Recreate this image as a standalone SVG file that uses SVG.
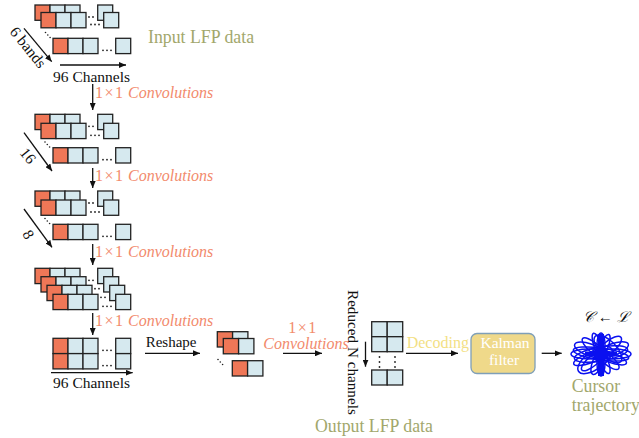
<svg xmlns="http://www.w3.org/2000/svg" xmlns:xlink="http://www.w3.org/1999/xlink" width="639" height="438" viewBox="0 0 639 438">
<style>
.r{fill:#ef7757;stroke:#222;stroke-width:1.3}
.b{fill:#d6e9ef;stroke:#222;stroke-width:1.3}
.d{fill:#222}
.ln{stroke:#111;stroke-width:1.3;fill:none}
.t{font-family:"Liberation Serif","Times New Roman",serif;fill:#111}
.ol{font-family:"Liberation Serif","Times New Roman",serif;fill:#a2a76c;font-size:17.8px}
.cv{font-family:"Liberation Serif","Times New Roman",serif;fill:#f28a6c;font-size:16px}
.it{font-style:italic}
.bl{fill:none;stroke:#0a10f0;stroke-width:1.5}
</style>
<defs>
<marker id="ah" markerUnits="userSpaceOnUse" markerWidth="7" markerHeight="6" refX="7" refY="3" orient="auto">
<path d="M0,0 L7,3 L0,6 z" fill="#111"/>
</marker>
<g id="row">
<rect class="r" x="0" y="0" width="15" height="15.3"/>
<rect class="b" x="15" y="0" width="15" height="15.3"/>
<rect class="b" x="30" y="0" width="15" height="15.3"/>
<circle class="d" cx="50" cy="12" r="0.9"/><circle class="d" cx="54" cy="12" r="0.9"/><circle class="d" cx="58" cy="12" r="0.9"/>
<rect class="b" x="62.7" y="0" width="15" height="15.3"/>
</g>
<g id="row2">
<rect class="r" x="0" y="0" width="15.3" height="15.3"/>
<rect class="b" x="15.3" y="0" width="15.3" height="15.3"/>
</g>
<g id="ddots">
<circle class="d" cx="0" cy="0" r="0.8"/><circle class="d" cx="2.3" cy="2.5" r="0.8"/><circle class="d" cx="4.6" cy="5" r="0.8"/>
</g>
</defs>

<g id="input-stack">
<use xlink:href="#row" x="35" y="5"/>
<use xlink:href="#row" x="41" y="12.5"/>
<use xlink:href="#ddots" x="45.5" y="32.5"/>
<use xlink:href="#row" x="53" y="38.3"/>
<text class="t" font-size="15.5" transform="translate(9,32) rotate(51)">6 bands</text>
<text class="t" font-size="15.5" x="53" y="82">96 Channels</text>
<text class="ol" x="148" y="43">Input LFP data</text>
</g>

<g id="stack-16">
<use xlink:href="#row" x="35" y="114.3"/>
<use xlink:href="#row" x="41" y="123.3"/>
<use xlink:href="#ddots" x="45" y="142"/>
<use xlink:href="#row" x="53" y="147.7"/>
<text class="t" font-size="15.5" transform="translate(19,153) rotate(51)">16</text>
</g>

<g id="stack-8">
<use xlink:href="#row" x="35" y="191"/>
<use xlink:href="#row" x="41" y="200"/>
<use xlink:href="#ddots" x="45" y="218.5"/>
<use xlink:href="#row" x="53" y="224.3"/>
<text class="t" font-size="15.5" text-anchor="middle" transform="translate(24,237) rotate(60)">8</text>
</g>

<g id="stack-4">
<use xlink:href="#row" x="35" y="268.3"/>
<use xlink:href="#row" x="41" y="276.7"/>
<use xlink:href="#row" x="47" y="285.3"/>
<use xlink:href="#row" x="53" y="294.3"/>
</g>

<g id="flat-block">
<use xlink:href="#row" x="53" y="338.3"/>
<use xlink:href="#row" x="53" y="353.6"/>
<text class="t" font-size="15.5" x="53" y="388">96 Channels</text>
</g>

<g id="reshaped">
<use xlink:href="#row2" x="217.3" y="331.7"/>
<use xlink:href="#row2" x="223.3" y="338.5"/>
<use xlink:href="#ddots" x="218" y="359.5"/>
<use xlink:href="#row2" x="232.3" y="360.7"/>
</g>

<g id="output-grid">
<rect class="b" x="371.7" y="321.7" width="15.5" height="15"/>
<rect class="b" x="387.2" y="321.7" width="15.5" height="15"/>
<rect class="b" x="371.7" y="336.7" width="15.5" height="15"/>
<rect class="b" x="387.2" y="336.7" width="15.5" height="15"/>
<circle class="d" cx="379.5" cy="357" r="0.9"/><circle class="d" cx="379.5" cy="362" r="0.9"/><circle class="d" cx="379.5" cy="367" r="0.9"/>
<circle class="d" cx="395" cy="357" r="0.9"/><circle class="d" cx="395" cy="362" r="0.9"/><circle class="d" cx="395" cy="367" r="0.9"/>
<rect class="b" x="371.7" y="370" width="15.5" height="15"/>
<rect class="b" x="387.2" y="370" width="15.5" height="15"/>
<text class="t" font-size="15.2" transform="translate(347.5,290) rotate(90)">Reduced N channels</text>
<text class="ol" x="315" y="431.5">Output LFP data</text>
</g>

<g id="kalman">
<rect x="471" y="333.5" width="64" height="40" rx="6" fill="#efd98a" stroke="#7f9fb8" stroke-width="1.3"/>
<text class="t" font-size="15.5" style="fill:#fff" text-anchor="middle" x="505" y="348.3">Kalman</text>
<text class="t" font-size="15.5" style="fill:#fff" text-anchor="middle" x="504" y="365">filter</text>
</g>

<g id="cursor">
<text class="t" font-size="15" font-style="italic" x="583" y="321.5">𝒞 ← ℒ</text>
<g transform="translate(601,354)">
<ellipse class="bl" rx="18" ry="5" transform="rotate(0) translate(12,0)"/>
<ellipse class="bl" rx="18" ry="5" transform="rotate(180) translate(12,0)"/>
<ellipse class="bl" rx="17" ry="5" transform="rotate(20) translate(10,0)"/>
<ellipse class="bl" rx="16" ry="6" transform="rotate(200) translate(12,0)"/>
<ellipse class="bl" rx="14" ry="5" transform="rotate(40) translate(9,0)"/>
<ellipse class="bl" rx="15" ry="5" transform="rotate(220) translate(9,0)"/>
<ellipse class="bl" rx="13" ry="4" transform="rotate(68) translate(8,0)"/>
<ellipse class="bl" rx="14" ry="4" transform="rotate(250) translate(8,0)"/>
<ellipse class="bl" rx="13" ry="4" transform="rotate(90) translate(9,0)"/>
<ellipse class="bl" rx="12" ry="4" transform="rotate(270) translate(9,0)"/>
<ellipse class="bl" rx="13" ry="5" transform="rotate(112) translate(9,0)"/>
<ellipse class="bl" rx="13" ry="4" transform="rotate(292) translate(8,0)"/>
<ellipse class="bl" rx="15" ry="5" transform="rotate(140) translate(10,0)"/>
<ellipse class="bl" rx="16" ry="6" transform="rotate(320) translate(10,0)"/>
<ellipse class="bl" rx="17" ry="5" transform="rotate(160) translate(12,0)"/>
<ellipse class="bl" rx="17" ry="6" transform="rotate(340) translate(12,0)"/>
<ellipse class="bl" rx="28" ry="6" transform="rotate(8)"/>
<ellipse class="bl" rx="27" ry="7" transform="rotate(-10)"/>
<ellipse class="bl" rx="20" ry="9" transform="translate(-6,6) rotate(-35)"/>
<ellipse class="bl" rx="18" ry="8" transform="translate(7,-5) rotate(45)"/>
<rect x="-3" y="-20" width="6" height="42" fill="#0a10f0"/>
<rect x="-16" y="-2.5" width="32" height="5" fill="#0a10f0"/>
<ellipse rx="8" ry="6" fill="#0a10f0"/>
</g>
<text class="ol" x="571.7" y="391.7">Cursor</text>
<text class="ol" x="571.7" y="410.5">trajectory</text>
</g>

<g id="connectors">
<line class="ln" x1="24" y1="28.3" x2="51.7" y2="61.7" marker-end="url(#ah)"/>
<line class="ln" x1="60" y1="65" x2="126" y2="65" marker-end="url(#ah)"/>
<line class="ln" x1="24" y1="132.7" x2="52" y2="171" marker-end="url(#ah)"/>
<line class="ln" x1="24" y1="209" x2="52" y2="247.3" marker-end="url(#ah)"/>
<line class="ln" x1="92.7" y1="84" x2="92.7" y2="110" marker-end="url(#ah)"/>
<line class="ln" x1="92.7" y1="168" x2="92.7" y2="188" marker-end="url(#ah)"/>
<line class="ln" x1="92.7" y1="244" x2="92.7" y2="265" marker-end="url(#ah)"/>
<line class="ln" x1="92.7" y1="313" x2="92.7" y2="335" marker-end="url(#ah)"/>
<line class="ln" x1="51" y1="372.7" x2="132.7" y2="372.7" marker-end="url(#ah)"/>
<line class="ln" x1="145" y1="353.3" x2="200" y2="353.3" marker-end="url(#ah)"/>
<line class="ln" x1="283" y1="353.3" x2="322" y2="353.3" marker-end="url(#ah)"/>
<line class="ln" x1="365.5" y1="341.7" x2="365.5" y2="366.7" marker-end="url(#ah)"/>
<line class="ln" x1="406" y1="353.3" x2="458" y2="353.3" marker-end="url(#ah)"/>
<line class="ln" x1="541.7" y1="353.3" x2="561.7" y2="353.3" marker-end="url(#ah)"/>
<text class="cv" x="95" y="97.5" letter-spacing="1.5">1×1<tspan class="it" x="128" letter-spacing="0">Convolutions</tspan></text>
<text class="cv" x="95" y="181" letter-spacing="1.5">1×1<tspan class="it" x="128" letter-spacing="0">Convolutions</tspan></text>
<text class="cv" x="95" y="257" letter-spacing="1.5">1×1<tspan class="it" x="128" letter-spacing="0">Convolutions</tspan></text>
<text class="cv" x="95" y="326" letter-spacing="1.5">1×1<tspan class="it" x="128" letter-spacing="0">Convolutions</tspan></text>
<text class="t" font-size="15" x="145.7" y="346.7">Reshape</text>
<text class="cv" text-anchor="middle" letter-spacing="1.5" x="303" y="333">1×1</text>
<text class="cv it" x="263.3" y="348.5">Convolutions</text>
<text font-family="Liberation Serif, serif" font-size="16" fill="#f3df84" x="406.7" y="348.3">Decoding</text>
</g>
</svg>
